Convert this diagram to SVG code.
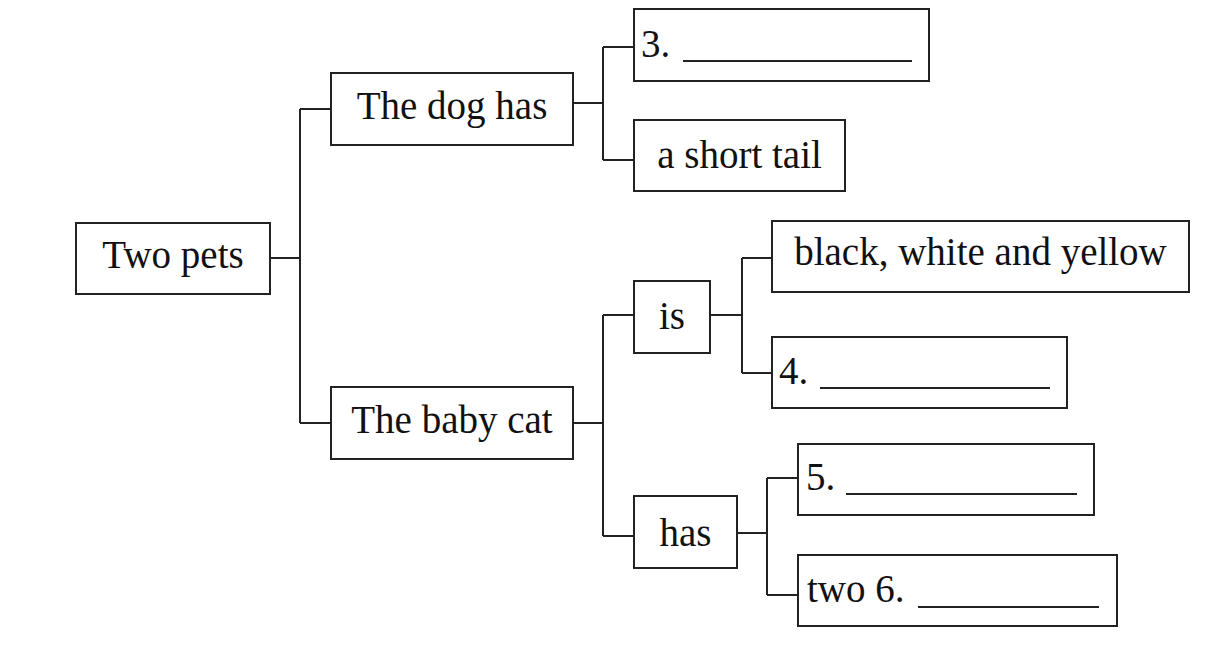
<svg xmlns="http://www.w3.org/2000/svg" width="1207" height="646" viewBox="0 0 1207 646">
<style>
rect{fill:#fff;stroke:#222;stroke-width:2}
text{font-family:"Liberation Serif","Times New Roman",serif;font-size:39px;fill:#111}
.c{text-anchor:middle}
.l{fill:none;stroke:#222;stroke-width:2}
</style>
<rect x="0" y="0" width="1207" height="646" style="fill:#fff;stroke:none"/>
<g id="connectors" class="l">
<path class="l" d="M270,258H300M300,109V423M300,109H331M300,423H331"/>
<path class="l" d="M573,103H603M603,47V160M603,47H634M603,160H634"/>
<path class="l" d="M573,423H603M603,315V536M603,315H634M603,536H634"/>
<path class="l" d="M710,315H742M742,258V373M742,258H772M742,373H772"/>
<path class="l" d="M737,533H767M767,478V595M767,478H798M767,595H798"/>
</g>
<g id="two-pets"><rect x="76" y="223" width="194" height="71"/><text class="c" x="173" y="268">Two pets</text></g>
<g id="dog-has"><rect x="331" y="73" width="242" height="72"/><text class="c" x="452" y="119">The dog has</text></g>
<g id="baby-cat"><rect x="331" y="387" width="242" height="72"/><text class="c" x="452" y="433">The baby cat</text></g>
<g id="blank3"><rect x="634" y="9" width="295" height="72"/><text x="641" y="57">3.</text><path class="l" d="M683,61H912"/></g>
<g id="short-tail"><rect x="634" y="120" width="211" height="71"/><text class="c" x="739.5" y="168">a short tail</text></g>
<g id="is"><rect x="634" y="281" width="76" height="72"/><text class="c" x="672" y="329">is</text></g>
<g id="colors"><rect x="772" y="221" width="417" height="71"/><text class="c" x="980.5" y="265">black, white and yellow</text></g>
<g id="blank4"><rect x="772" y="337" width="295" height="71"/><text x="779" y="384">4.</text><path class="l" d="M820,388H1050"/></g>
<g id="has"><rect x="634" y="496" width="103" height="72"/><text class="c" x="685.5" y="546">has</text></g>
<g id="blank5"><rect x="798" y="444" width="296" height="71"/><text x="806" y="490">5.</text><path class="l" d="M846,494H1077"/></g>
<g id="blank6"><rect x="798" y="555" width="319" height="71"/><text x="807" y="602">two 6.</text><path class="l" d="M918,607H1099"/></g>
</svg>
